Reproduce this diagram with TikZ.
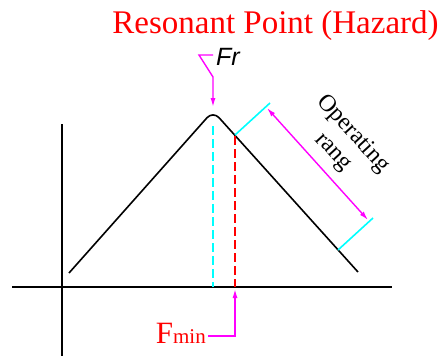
\documentclass[tikz,border=0pt]{standalone}
\usepackage{fontspec}
\setmainfont{Liberation Serif}
\newfontfamily\frfont{Liberation Sans}
\usetikzlibrary{arrows.meta}
\definecolor{mag}{RGB}{255,0,255}
\definecolor{cyn}{RGB}{0,255,255}
\definecolor{rd}{RGB}{255,0,0}
\tikzset{
  axis/.style={line width=1.6pt,black},
  curve/.style={line width=1.6pt,black,rounded corners=9pt},
  cline/.style={line width=1.6pt,cyn},
  pline/.style={line width=1.4pt,mag},
  tip/.style={-{Latex[length=9pt,width=5pt]}},
  cdash/.style={line width=1.6pt,cyn,dash pattern=on 9pt off 4pt},
  rdash/.style={line width=1.6pt,rd,dash pattern=on 9pt off 4pt},
}
\begin{document}
\begin{tikzpicture}[x=1pt,y=-1pt]
\useasboundingbox (0,0) rectangle (448,356);
% axes
\coordinate (vt) at (62,124);
\coordinate (vb) at (62,356);
\coordinate (hl) at (12,287);
\coordinate (hr) at (392,287);
\draw[axis] (vt) -- (vb);
\draw[axis] (hl) -- (hr);
% curve
\coordinate (cl) at (69,273);
\coordinate (pk) at (213,111);
\coordinate (cr) at (358,272);
\draw[curve] (cl) -- (pk) -- (cr);
% dashed lines
\coordinate (ct) at (213,126);
\coordinate (cb) at (213,287);
\coordinate (rt) at (235,136);
\coordinate (rb) at (235,287);
\draw[cdash] (ct) -- (cb);
\draw[rdash] (rt) -- (rb);
% operating range extension lines
\coordinate (e1a) at (235,135);
\coordinate (e1b) at (270,103);
\coordinate (e2a) at (338,250);
\coordinate (e2b) at (373,218);
\draw[cline] (e1a) -- (e1b);
\draw[cline] (e2a) -- (e2b);
\coordinate (d1) at (267,108);
\coordinate (d2) at (368,220);
\draw[pline,{Latex[length=9pt,width=5pt]}-{Latex[length=9pt,width=5pt]}] (d1) -- (d2);
\node[rotate=-47.5,align=center,font=\fontsize{24}{27}\selectfont,inner sep=0pt] (op) at (343,143) {Operating\\rang};
% title
\node[anchor=base,text=rd,font=\fontsize{33}{36}\selectfont,inner sep=0pt] (title) at (275.5,33) {Resonant Point (Hazard)};
% Fr
\node[anchor=base west,font=\frfont\itshape\fontsize{25}{28}\selectfont,inner sep=0pt] (fr) at (216,65) {Fr};
\coordinate (f1) at (213,55);
\coordinate (f2) at (199,55);
\coordinate (f3) at (213,77);
\coordinate (f4) at (213,107);
\draw[pline,tip] (f1) -- (f2) -- (f3) -- (f4);
% Fmin
\node[anchor=base east,text=rd,inner sep=0pt] (fmin) at (206,343) {\fontsize{31}{34}\selectfont F\fontsize{21}{24}\selectfont min};
\coordinate (m1) at (208,336);
\coordinate (m2) at (235,336);
\coordinate (m3) at (235,289);
\draw[pline,tip] (m1) -- (m2) -- (m3);
\end{tikzpicture}
\end{document}
